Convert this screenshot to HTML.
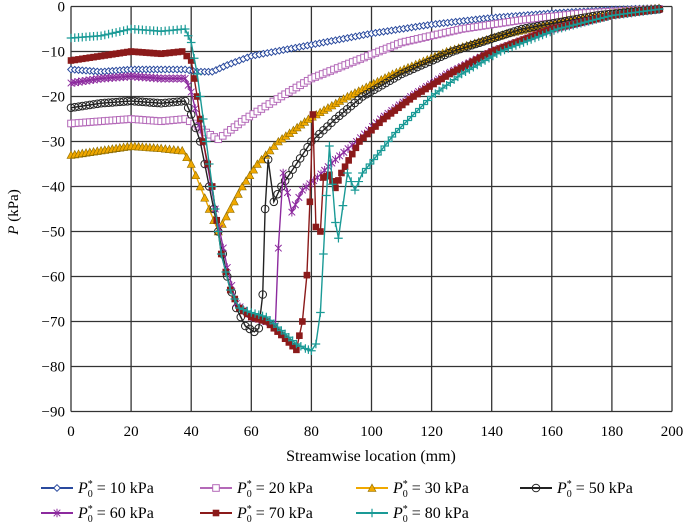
<!DOCTYPE html>
<html><head><meta charset="utf-8"><style>
html,body{margin:0;padding:0;background:#fff;}
svg{display:block;font-family:"Liberation Serif",serif;}
</style></head><body>
<svg id="chart" width="685" height="523" viewBox="0 0 685 523">
<g id="grid"></g>
<g id="series"></g>
<g id="axes"></g>
<text x="371" y="461" text-anchor="middle" font-size="16">Streamwise location (mm)</text>
<text transform="translate(18,212) rotate(-90)" text-anchor="middle" font-size="15"><tspan font-style="italic">P</tspan> (kPa)</text>
<g id="legend"></g>
</svg>
<script>
const xTicks=[0,20,40,60,80,100,120,140,160,180,200];
const yTicks=[0,-10,-20,-30,-40,-50,-60,-70,-80,-90];
const names=["10","20","30","50","60","70","80"];
const colors=["#2a4a9e","#b469b8","#f0a800","#222222","#8c2a9e","#8b1a1a","#1a9a96"];
const markers=["diamond","square","triangle","circle","star","fsquare","plus"];
const x10=[0,10,20,30,38,42,47,52,60,80,100,120,140,160,180,197];
const y10=[-14,-14.5,-14,-14,-14,-14.5,-14.5,-13,-11,-8.5,-6,-4,-2.5,-1.5,-0.7,-0.3];
const x20=[0,10,20,30,38,41,45,49,52,58,70,80,95,110,130,150,170,197];
const y20=[-26,-25.5,-25,-25.5,-25,-26,-28,-29.5,-28,-25,-20,-16,-12,-8,-5,-3,-1.5,-0.5];
const x30=[0,10,20,30,37,40,43,46,49,53,57,62,69,79,92,107,125,145,165,185,197];
const y30=[-33,-32,-31,-31.5,-32,-35,-40,-45,-50,-45,-40,-35,-30,-25,-20,-15,-10,-6,-3,-1,-0.3];
const x50=[0,10,20,30,38,40,43,46,49,52,55,58,61,62.5,63.8,64.6,65.6,67.5,70,75,80,88,97,110,127,150,175,197];
const y50=[-22.5,-21.5,-21,-21.5,-21,-24,-30,-40,-50,-60,-67,-71,-72.3,-71.5,-64,-45,-34,-43.4,-40,-35,-30,-25,-20,-15,-10,-5,-2,-0.5];
const x60=[0,10,20,30,38,40,44,48,52,55,60,65,68,69,70.6,73.5,77,82,88,95,103,113,125,140,160,180,197];
const y60=[-17,-16,-15.5,-16,-16,-19,-30,-45,-58,-66,-69,-70,-71,-53.7,-37,-45.7,-40.8,-38,-34,-30,-25,-20,-15,-10,-5,-2,-0.5];
const x70=[0,10,20,30,37,40,42,44,47,50,53,56,60,65,70,75,77,78.5,79.5,80.5,81.5,83,84,86,88,90,96,104,114,126,140,160,180,197];
const y70=[-12,-11,-10,-10.5,-10,-12,-20,-30,-40,-55,-63,-67,-69,-70,-73,-76.3,-70,-59.7,-43.4,-24,-49,-50,-38,-37.4,-40.3,-37,-30,-25,-20,-15,-10,-5,-2,-0.5];
const x80=[0,10,20,30,38,40,42,44,46,48,50,53,56,60,65,70,75,78,80,81.5,83,84,85,86,88,89,92,94.5,97,102,108,120,130,143,162,180,197];
const y80=[-7,-6.5,-5,-5.5,-5,-8,-15,-25,-35,-45,-55,-63,-67,-68,-69,-72,-75,-76,-76.5,-75,-68,-55,-42,-31,-48,-51.5,-37,-40.8,-37,-33,-28,-20,-15,-10,-5,-2,-0.5];
const seriesX=[x10,x20,x30,x50,x60,x70,x80];
const seriesY=[y10,y20,y30,y50,y60,y70,y80];

const NS="http://www.w3.org/2000/svg";
const L=71,R=672,T=6.5,B=411.5;
const sx=v=>L+(v-0)/200*(R-L);
const sy=v=>T+(0-v)/90*(B-T);
function mk(tag,attrs,parent){const e=document.createElementNS(NS,tag);for(const k in attrs)e.setAttribute(k,attrs[k]);parent.appendChild(e);return e;}
const grid=document.getElementById('grid'),axes=document.getElementById('axes');
xTicks.forEach(t=>{
 const l=mk('line',{x1:sx(t),x2:sx(t),y1:T,y2:B,stroke:'#333','stroke-width':1.3},grid);
 
 
 const tx=mk('text',{x:sx(t),y:436,'text-anchor':'middle','font-size':15},axes);
 tx.textContent=t;
 
 
});
yTicks.forEach(t=>{
 const l=mk('line',{x1:L,x2:R,y1:sy(t),y2:sy(t),stroke:'#333','stroke-width':1.3},grid);
 
 
 const tx=mk('text',{x:L-6,y:sy(t)+5,'text-anchor':'end','font-size':15},axes);
 tx.textContent=t===0?'0':'\u2212'+Math.abs(t);
 
 
});
function drawMarker(type,x,y,c,parent){
 let e;const s=3.3;
 if(type==='diamond')e=mk('path',{d:`M${x-s} ${y}L${x} ${y-s}L${x+s} ${y}L${x} ${y+s}Z`,fill:'#fff',stroke:c,'stroke-width':1},parent);
 else if(type==='square')e=mk('rect',{x:x-s,y:y-s,width:2*s,height:2*s,fill:'#fff',stroke:c,'stroke-width':1},parent);
 else if(type==='fsquare')e=mk('rect',{x:x-s,y:y-s,width:2*s,height:2*s,fill:c},parent);
 else if(type==='triangle')e=mk('path',{d:`M${x-4} ${y+3.5}L${x} ${y-4}L${x+4} ${y+3.5}Z`,fill:c,stroke:'#8a6a00','stroke-width':0.6},parent);
 else if(type==='circle')e=mk('circle',{cx:x,cy:y,r:s+0.5,fill:'none',stroke:c,'stroke-width':1},parent);
 else if(type==='star')e=mk('path',{d:`M${x-s} ${y-s}L${x+s} ${y+s}M${x-s} ${y+s}L${x+s} ${y-s}M${x} ${y-s-1}L${x} ${y+s+1}`,stroke:c,'stroke-width':1,fill:'none'},parent);
 else e=mk('path',{d:`M${x-s-1} ${y}L${x+s+1} ${y}M${x} ${y-s-1}L${x} ${y+s+1}`,stroke:c,'stroke-width':1.2,fill:'none'},parent);
 return e;
}
const sg=document.getElementById('series');
seriesX.forEach((xs,i)=>{
 const ys=seriesY[i];const g=mk('g',{},sg);
 
 
 const pts=xs.map((x,j)=>sx(x)+','+sy(ys[j])).join(' ');
 const pl=mk('polyline',{points:pts,fill:'none',stroke:colors[i],'stroke-width':1.4},g);
 
 
 for(let j=0;j<xs.length-1;j++){
  const n=Math.max(1,Math.round((xs[j+1]-xs[j])/1.3));
  for(let k=0;k<n;k++){
   const f=k/n;const xv=xs[j]+(xs[j+1]-xs[j])*f,yv=ys[j]+(ys[j+1]-ys[j])*f;
   const m=drawMarker(markers[i],sx(xv),sy(yv),colors[i],g);
   
   
  }
 }
});
const lg=document.getElementById('legend');
const lpos=[[41,488],[200,488],[356,488],[520,488],[41,513],[200,513],[356,513]];
names.forEach((n,i)=>{
 const [x,y]=lpos[i];const g=mk('g',{},lg);
 
 
 mk('line',{x1:x,x2:x+32,y1:y,y2:y,stroke:colors[i],'stroke-width':2},g);
 drawMarker(markers[i],x+16,y,colors[i],g);
 const t=mk('text',{x:x+37,y:y+5,'font-size':16},g);
 t.innerHTML='<tspan font-style="italic">P</tspan><tspan font-size="10" dy="-6">*</tspan><tspan font-size="10" dx="-5" dy="10">0</tspan><tspan dy="-4"> = '+n+' kPa</tspan>';
});
</script>
</body></html>
